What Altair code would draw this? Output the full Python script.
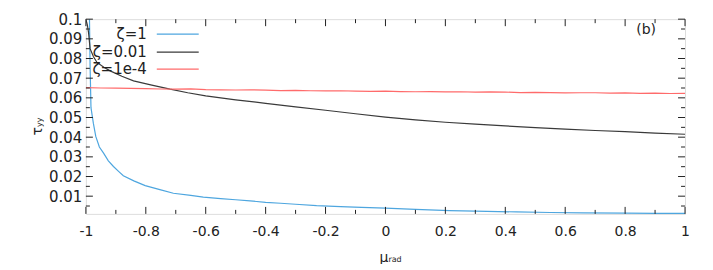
import altair as alt
import pandas as pd

# ---- data ----
mu_b = [-0.99, -0.988, -0.986, -0.983, -0.975, -0.967, -0.955, -0.941, -0.925, -0.908,
        -0.89, -0.875, -0.84, -0.802, -0.75, -0.708, -0.65, -0.608, -0.55, -0.5,
        -0.452, -0.4, -0.35, -0.3, -0.23, -0.15, -0.08, 0.0, 0.1, 0.214,
        0.3, 0.437, 0.55, 0.66, 0.8, 0.9, 1.0]
v_b = [0.108, 0.100, 0.0765, 0.055, 0.047, 0.0404, 0.035, 0.0319, 0.028, 0.0251,
       0.0225, 0.0204, 0.0178, 0.0154, 0.0132, 0.0115, 0.0104, 0.0095, 0.0088, 0.0082,
       0.0076, 0.0069, 0.0064, 0.0059, 0.0052, 0.0047, 0.0043, 0.0039, 0.0033, 0.0027,
       0.0024, 0.0020, 0.0017, 0.0015, 0.0014, 0.0013, 0.0013]

mu_k = [-1.0, -0.995, -0.991, -0.986, -0.975, -0.963, -0.94, -0.919, -0.88, -0.841,
        -0.78, -0.719, -0.66, -0.6, -0.5, -0.4, -0.3, -0.2, -0.1, 0.0,
        0.1, 0.2, 0.3, 0.4, 0.5, 0.6, 0.7, 0.8, 0.9, 1.0]
v_k = [0.100, 0.097, 0.093, 0.085, 0.081, 0.078, 0.0755, 0.0737, 0.071, 0.0686,
       0.0665, 0.0644, 0.0626, 0.0610, 0.0590, 0.0572, 0.0554, 0.0537, 0.0519, 0.0502,
       0.0488, 0.0476, 0.0466, 0.0457, 0.0449, 0.0441, 0.0434, 0.0428, 0.0421, 0.0415]

mu_r = [-1.0, -0.95, -0.9, -0.85, -0.8, -0.75, -0.7, -0.65, -0.6, -0.55,
        -0.5, -0.45, -0.4, -0.35, -0.3, -0.25, -0.2, -0.15, -0.1, -0.05,
        0.0, 0.05, 0.1, 0.15, 0.2, 0.25, 0.3, 0.35, 0.4, 0.45,
        0.5, 0.55, 0.6, 0.65, 0.7, 0.75, 0.8, 0.85, 0.9, 0.95, 1.0]
v_r = [0.0652, 0.0650, 0.0649, 0.0648, 0.0647, 0.0645, 0.0644, 0.0646, 0.0642, 0.0641,
       0.0640, 0.0641, 0.0639, 0.0637, 0.0638, 0.0636, 0.0635, 0.0636, 0.0634, 0.0633,
       0.0634, 0.0632, 0.0631, 0.0632, 0.0630, 0.0631, 0.0629, 0.0630, 0.0629, 0.0627,
       0.0628, 0.0627, 0.0625, 0.0626, 0.0626, 0.0624, 0.0625, 0.0623, 0.0624, 0.0622, 0.0623]

series_names = ["ζ=1", "ζ=0.01", "ζ=1e-4"]
series_colors = ["#4ea6df", "#3a3a3a", "#ff6b6b"]

x_major = [-1, -0.8, -0.6, -0.4, -0.2, 0, 0.2, 0.4, 0.6, 0.8, 1]
x_minor = [-0.9, -0.7, -0.5, -0.3, -0.1, 0.1, 0.3, 0.5, 0.7, 0.9]
y_major = [0.01, 0.02, 0.03, 0.04, 0.05, 0.06, 0.07, 0.08, 0.09, 0.1]
y_minor = [0.005, 0.015, 0.025, 0.035, 0.045, 0.055, 0.065, 0.075, 0.085, 0.095]

W, H = 600, 195
FONT = "DejaVu Sans"
TXT = "#222"

df = pd.concat([
    pd.DataFrame({"mu": mu_b, "tau": v_b, "s": series_names[0]}),
    pd.DataFrame({"mu": mu_k, "tau": v_k, "s": series_names[1]}),
    pd.DataFrame({"mu": mu_r, "tau": v_r, "s": series_names[2]}),
])

xs = alt.Scale(domain=[-1, 1], nice=False, zero=False)
ys = alt.Scale(domain=[0.001, 0.1], nice=False, zero=False)
hy = "replace(datum.label, '\u2212', '-')"

AX = alt.Axis(values=x_major, title=None, ticks=False, domain=False, grid=False,
              labelFontSize=14, labelFont=FONT, labelColor=TXT,
              labelPadding=11, labelFlush=False, labelOverlap=False,
              format="~g", labelExpr=hy)
AY = alt.Axis(values=y_major, title=None, ticks=False, domain=False, grid=False,
              labelFontSize=15, labelFont=FONT, labelColor=TXT,
              labelPadding=4, labelOverlap=False, labelFlush=False,
              format="~g")

lines = alt.Chart(df).mark_line(strokeWidth=1.2, clip=True).encode(
    x=alt.X("mu:Q", scale=xs, axis=AX),
    y=alt.Y("tau:Q", scale=ys, axis=AY),
    color=alt.Color("s:N", scale=alt.Scale(domain=series_names, range=series_colors), legend=None),
    detail="s:N",
)

tick_col = "#222"
xmaj = pd.DataFrame({"v": x_major})
xmin = pd.DataFrame({"v": x_minor})
ymaj = pd.DataFrame({"v": y_major})
ymin = pd.DataFrame({"v": y_minor})

def xticks(d, L):
    b = alt.Chart(d).mark_rule(color=tick_col, strokeWidth=1)
    return (b.encode(x=alt.X("v:Q", scale=xs, axis=AX), y=alt.value(H), y2=alt.value(H - L)) +
            b.encode(x=alt.X("v:Q", scale=xs, axis=AX), y=alt.value(0), y2=alt.value(L)))

def yticks(d, L):
    b = alt.Chart(d).mark_rule(color=tick_col, strokeWidth=1)
    return (b.encode(y=alt.Y("v:Q", scale=ys, axis=AY), x=alt.value(0), x2=alt.value(L)) +
            b.encode(y=alt.Y("v:Q", scale=ys, axis=AY), x=alt.value(W), x2=alt.value(W - L)))

ticks = xticks(xmaj, 7) + xticks(xmin, 4) + yticks(ymaj, 7) + yticks(ymin, 4)

# legend
leg = pd.DataFrame({"s": series_names, "row": [15, 33, 50]})
leg_text = alt.Chart(leg).mark_text(align="right", baseline="middle", fontSize=15,
                                    font=FONT, color=TXT).encode(
    x=alt.value(61), y=alt.Y("row:Q", scale=None), text="s:N")
leg_line = alt.Chart(leg).mark_rule(strokeWidth=1.2).encode(
    x=alt.value(71), x2=alt.value(113), y=alt.Y("row:Q", scale=None),
    color=alt.Color("s:N", scale=alt.Scale(domain=series_names, range=series_colors), legend=None))

panel = alt.Chart(pd.DataFrame({"t": ["(b)"]})).mark_text(
    fontSize=14, font=FONT, color=TXT, baseline="middle", align="center").encode(
    x=alt.value(561), y=alt.value(11), text="t:N")

# axis titles with subscripts
xtitle = alt.Chart(pd.DataFrame({"t": ["μ"]})).mark_text(fontSize=14, font=FONT, color=TXT,
                                 align="right", baseline="alphabetic").encode(
    x=alt.value(303), y=alt.value(H + 48), text="t:N")
xsub = alt.Chart(pd.DataFrame({"t": ["rad"]})).mark_text(fontSize=8, font=FONT, color=TXT,
                                 align="left", baseline="alphabetic").encode(
    x=alt.value(303), y=alt.value(H + 48), text="t:N")
ytitle = alt.Chart(pd.DataFrame({"t": ["τ"]})).mark_text(fontSize=14, font=FONT, color=TXT,
                                 align="right", baseline="alphabetic", angle=270).encode(
    x=alt.value(-44), y=alt.value(108), text="t:N")
ysub = alt.Chart(pd.DataFrame({"t": ["yy"]})).mark_text(fontSize=8, font=FONT, color=TXT,
                                 align="left", baseline="alphabetic", angle=270).encode(
    x=alt.value(-44), y=alt.value(108), text="t:N")

chart = alt.layer(lines, ticks, leg_line, leg_text, panel, xtitle, xsub, ytitle, ysub).properties(
    width=W, height=H,
    autosize=alt.AutoSizeParams(type="none"),
    padding={"left": 78, "top": 11, "right": 20, "bottom": 50},
).configure_view(stroke="#222", strokeWidth=1.2).configure(background="white")

chart.save("out.html", embed_options={"renderer": "svg", "actions": False})
